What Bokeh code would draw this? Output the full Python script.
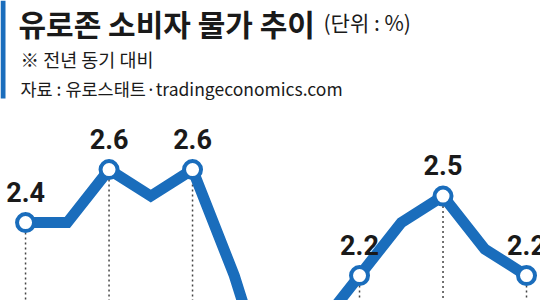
from bokeh.plotting import figure
from bokeh.models import Range1d, Label, BoxAnnotation, ColumnDataSource
from bokeh.embed import file_html
from bokeh.resources import INLINE
from bokeh.core.properties import value

# Eurozone HICP, year-on-year change (%), Mar 2024 - Mar 2025
months = ["2024.3", "4", "5", "6", "7", "8", "9", "10", "11", "12", "2025.1", "2", "3"]
cpi = [2.4, 2.4, 2.6, 2.5, 2.6, 2.2, 1.7, 2.0, 2.2, 2.4, 2.5, 2.3, 2.2]
marked = [0, 2, 4, 6, 8, 10, 12]      # every other month carries a marker
labelled = [0, 2, 4, 8, 10, 12]       # value labels inside the visible window

title = "유로존 소비자 물가 추이"
unit = "(단위 : %)"
note = "※ 전년 동기 대비"
source = "자료 : 유로스태트·tradingeconomics.com"

BLUE = "#1a6dbc"
INK = "#1a1a1a"
KR = "Noto Sans CJK KR"

xs = list(range(len(months)))
line_src = ColumnDataSource(dict(x=xs, y=cpi))
mk_src = ColumnDataSource(dict(
    x=[xs[i] for i in marked],
    y=[cpi[i] for i in marked],
))
lbl_src = ColumnDataSource(dict(
    x=[xs[i] for i in labelled],
    y=[cpi[i] for i in labelled],
    lbl=[f"{cpi[i]:.1f}" for i in labelled],
))

p = figure(width=540, height=300, output_backend="svg", toolbar_location=None,
           x_range=Range1d(-0.6, 12.335), y_range=Range1d(2.106, 3.238),
           min_border=0, outline_line_color=None)
p.axis.visible = False
p.grid.visible = False
p.background_fill_color = "white"
p.border_fill_color = "white"

# dotted guides dropping from each marker
p.segment(x0="x", y0="y", x1="x", y1=0.5, source=mk_src,
          line_color="#444444", line_width=1.5, line_dash="2 3")

p.line("x", "y", source=line_src, line_color=BLUE, line_width=11, line_join="miter")
p.scatter("x", "y", source=mk_src, size=17, fill_color="white",
          line_color=BLUE, line_width=4)
p.text("x", "y", text="lbl", source=lbl_src, text_align="center",
       text_baseline="alphabetic", y_offset=-31,
       text_font=value("Roboto"), text_font_style="bold",
       text_font_size="27px", text_color=INK)

# header block
p.add_layout(BoxAnnotation(left=0, right=5, top=300, bottom=202,
                           left_units="screen", right_units="screen",
                           top_units="screen", bottom_units="screen",
                           fill_color=BLUE, fill_alpha=1, line_color=None))
p.add_layout(Label(x=18, y=300, x_units="screen", y_units="screen", text=title,
                   text_baseline="top", text_font=KR, text_font_style="bold",
                   text_font_size="30px", text_color=INK))
p.add_layout(Label(x=323, y=294, x_units="screen", y_units="screen", text=unit,
                   text_baseline="top", text_font=KR,
                   text_font_size="21px", text_color=INK))
p.add_layout(Label(x=20, y=242, x_units="screen", y_units="screen", text=note,
                   text_baseline="middle", text_font=KR,
                   text_font_size="18.5px", text_color=INK))
p.add_layout(Label(x=20, y=212, x_units="screen", y_units="screen", text=source,
                   text_baseline="middle", text_font=KR,
                   text_font_size="17.5px", text_color=INK))

open("out.html", "w").write(file_html(p, INLINE))
